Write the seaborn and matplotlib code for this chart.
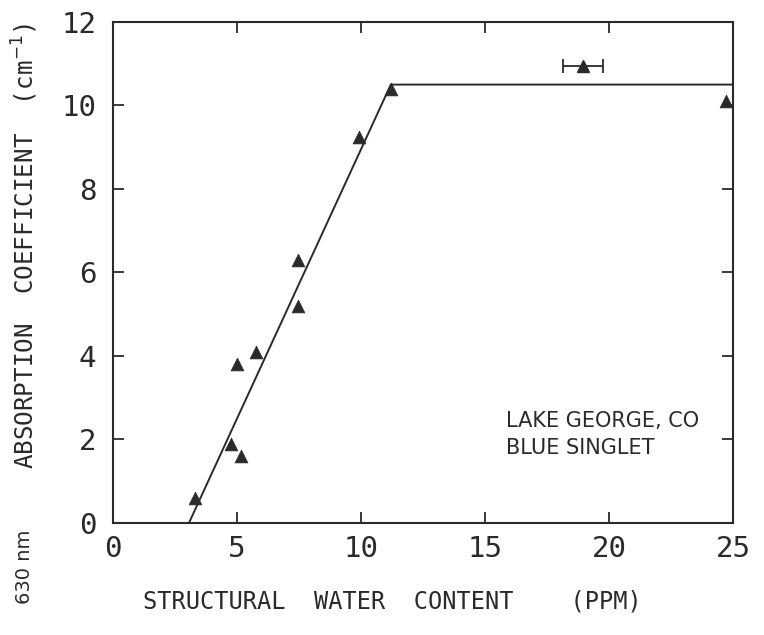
import matplotlib
matplotlib.use("Agg")
import matplotlib.pyplot as plt
import seaborn as sns
import pandas as pd

# Measured samples: structural water content (ppm) vs 630 nm absorption coefficient (cm^-1)
water_ppm = [3.3, 4.75, 5.15, 5.0, 5.75, 7.45, 7.45, 9.9, 11.2, 24.7]
absorption = [0.6, 1.9, 1.6, 3.8, 4.1, 5.2, 6.3, 9.25, 10.4, 10.1]

# Sample with uncertainty in water content
err_water = [18.95]
err_absorption = [10.95]
err_halfwidth = [0.82]

# Piecewise trend line vertices
trend_water = [3.06, 11.2, 25.0]
trend_absorption = [0.0, 10.5, 10.5]

x_ticks = [0, 5, 10, 15, 20, 25]
y_ticks = [0, 2, 4, 6, 8, 10, 12]

sns.set_style("ticks")
plt.rcParams["font.family"] = ["DejaVu Sans Mono", "DejaVu Sans"]

ink = "#2a2a2a"
fig = plt.figure(figsize=(7.64, 6.35), dpi=100)
ax = fig.add_axes([0.148, 0.1764, 0.8114, 0.789])

df = pd.DataFrame({"water": water_ppm, "absorption": absorption})
trend = pd.DataFrame({"water": trend_water, "absorption": trend_absorption})

sns.lineplot(data=trend, x="water", y="absorption", ax=ax, color=ink,
             linewidth=1.4, sort=False, estimator=None)
sns.scatterplot(data=df, x="water", y="absorption", ax=ax, marker="^",
                color=ink, s=85, edgecolor=ink, linewidth=0.5, zorder=3)
ax.errorbar(err_water, err_absorption, xerr=err_halfwidth, fmt="^", color=ink,
            markersize=8, elinewidth=1.3, capsize=5, capthick=1.3, zorder=3)

ax.set_xlim(0, 25)
ax.set_ylim(0, 12)
ax.set_xticks(x_ticks)
ax.set_yticks(y_ticks)
ax.set_xticklabels([str(v) for v in x_ticks])
ax.set_yticklabels([str(v) for v in y_ticks])
ax.tick_params(direction="in", length=8, width=1.3, colors=ink,
               labelsize=21, top=True, right=True)
ax.tick_params(axis="x", pad=9)
ax.tick_params(axis="y", pad=12)
ax.set_xlabel("")
ax.set_ylabel("")
for side in ax.spines.values():
    side.set_linewidth(1.5)
    side.set_color(ink)

ax.text(15.85, 2.45, "LAKE GEORGE, CO", fontsize=15, color=ink,
        family=["DejaVu Sans"], ha="left", va="center")
ax.text(15.85, 1.8, "BLUE SINGLET", fontsize=15, color=ink,
        family=["DejaVu Sans"], ha="left", va="center")

fig.text(392 / 764, 1 - 601 / 635, "STRUCTURAL  WATER  CONTENT    (PPM)",
         fontsize=17, color=ink, ha="center", va="center")
fig.text(25 / 764, 1 - 246 / 635, "ABSORPTION  COEFFICIENT  (cm$^{-1}$)",
         fontsize=17.5, color=ink, ha="center", va="center", rotation=90)
fig.text(25 / 764, 1 - 567 / 635, "630 nm", fontsize=14, color=ink,
         family=["DejaVu Sans"], ha="center", va="center", rotation=90)

fig.savefig("out.png", dpi=100)
